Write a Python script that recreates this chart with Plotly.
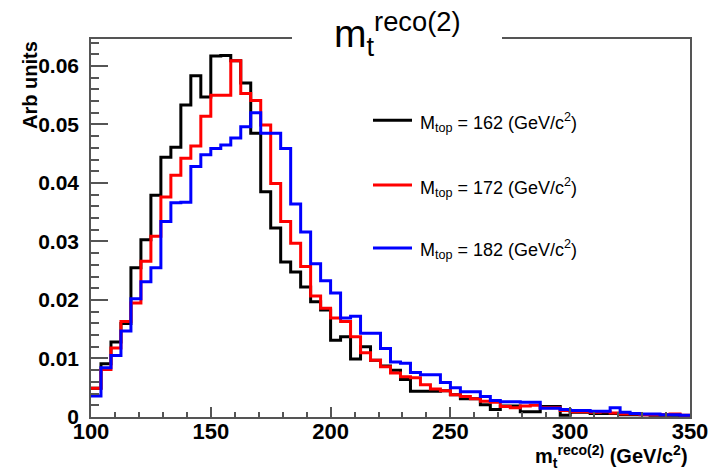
import plotly.graph_objects as go

# ---------------- data ----------------
x_min, x_max, n_bins = 100.0, 350.0, 60
bin_edges = [x_min + i * (x_max - x_min) / n_bins for i in range(n_bins + 1)]

series_names = ["162", "172", "182"]
series_colors = ["#000000", "#ff0000", "#0000ff"]

mtop162 = [0.0049, 0.0091, 0.0128, 0.0160, 0.0255, 0.0303, 0.0379, 0.0444, 0.0461, 0.0533,
           0.0583, 0.0547, 0.0617, 0.0618, 0.0609, 0.0571, 0.0485, 0.0385, 0.0323, 0.0265,
           0.0248, 0.0222, 0.0197, 0.0183, 0.0131, 0.0137, 0.0099, 0.0120, 0.0097, 0.0087,
           0.0080, 0.0064, 0.0044, 0.0044, 0.0044, 0.0045, 0.0038, 0.0031, 0.0031, 0.0021,
           0.0013, 0.0019, 0.0019, 0.0009, 0.0009, 0.0018, 0.0018, 0.0003, 0.0008, 0.0008,
           0.0006, 0.0006, 0.0006, 0.0004, 0.0004, 0.0004, 0.0003, 0.0003, 0.0003, 0.0002]

mtop172 = [0.0049, 0.0081, 0.0118, 0.0163, 0.0195, 0.0266, 0.0309, 0.0376, 0.0413, 0.0442,
           0.0463, 0.0514, 0.0550, 0.0550, 0.0609, 0.0553, 0.0541, 0.0499, 0.0399, 0.0334,
           0.0297, 0.0257, 0.0207, 0.0186, 0.0169, 0.0163, 0.0137, 0.0110, 0.0097, 0.0086,
           0.0075, 0.0069, 0.0067, 0.0055, 0.0048, 0.0045, 0.0038, 0.0035, 0.0031, 0.0027,
           0.0025, 0.0018, 0.0016, 0.0019, 0.0020, 0.0016, 0.0016, 0.0011, 0.0009, 0.0009,
           0.0008, 0.0009, 0.0007, 0.0005, 0.0005, 0.0004, 0.0004, 0.0004, 0.0005, 0.0003]

mtop182 = [0.0036, 0.0084, 0.0105, 0.0147, 0.0202, 0.0231, 0.0255, 0.0334, 0.0366, 0.0367,
           0.0428, 0.0448, 0.0459, 0.0465, 0.0477, 0.0496, 0.0520, 0.0485, 0.0485, 0.0459,
           0.0364, 0.0316, 0.0262, 0.0233, 0.0212, 0.0169, 0.0172, 0.0143, 0.0143, 0.0117,
           0.0094, 0.0092, 0.0076, 0.0072, 0.0072, 0.0059, 0.0050, 0.0043, 0.0043, 0.0035,
           0.0028, 0.0026, 0.0026, 0.0025, 0.0025, 0.0015, 0.0015, 0.0013, 0.0011, 0.0011,
           0.0010, 0.0010, 0.0016, 0.0008, 0.0006, 0.0005, 0.0005, 0.0004, 0.0004, 0.0003]

all_series = [mtop162, mtop172, mtop182]

y_max = 0.0646
x_tick_vals = [100, 150, 200, 250, 300, 350]
y_tick_vals = [0, 0.01, 0.02, 0.03, 0.04, 0.05, 0.06]
y_tick_text = ["0", "0.01", "0.02", "0.03", "0.04", "0.05", "0.06"]

# ---------------- figure ----------------
W, H = 722, 470
ml, mr, mt, mb = 91, 32, 38.5, 52.5
pw, ph = W - ml - mr, H - mt - mb

def px(xp):
    return (xp - ml) / pw

def py(yp):
    return (H - mb - yp) / ph

fig = go.Figure()
for name, col, vals in zip(series_names, series_colors, all_series):
    fig.add_trace(go.Scatter(
        x=bin_edges, y=vals + [vals[-1]], mode="lines",
        line=dict(shape="hv", color=col, width=3),
        name=name, showlegend=False, hoverinfo="skip"))

frame_col = "#555555"
font_fam = "Liberation Sans, Arial, sans-serif"

fig.update_xaxes(
    range=[x_min, x_max], showgrid=False, zeroline=False,
    showline=True, linecolor=frame_col, linewidth=1.5, mirror=True,
    ticks="inside", ticklen=10, tickwidth=1.5, tickcolor=frame_col,
    tickmode="array", tickvals=x_tick_vals, ticktext=[str(v) for v in x_tick_vals],
    tickfont=dict(family=font_fam, size=22, color="black", weight="bold"),
    ticklabelstandoff=-6,
    minor=dict(ticks="inside", ticklen=5, tickwidth=1.5, tickcolor=frame_col,
               dtick=10, tick0=100, showgrid=False))
fig.update_yaxes(
    range=[0, y_max], showgrid=False, zeroline=False,
    showline=True, linecolor=frame_col, linewidth=1.5, mirror=True,
    ticks="inside", ticklen=17, tickwidth=1.5, tickcolor=frame_col,
    tickmode="array", tickvals=y_tick_vals, ticktext=y_tick_text,
    tickfont=dict(family=font_fam, size=21, color="black", weight="bold"),
    ticklabelstandoff=6,
    minor=dict(ticks="inside", ticklen=8, tickwidth=1.5, tickcolor=frame_col,
               dtick=0.002, tick0=0, showgrid=False))

shapes = [dict(type="rect", xref="paper", yref="paper",
               x0=px(292), x1=px(502), y0=py(60), y1=py(0),
               fillcolor="white", line=dict(width=0), layer="above")]

annotations = []
# title
annotations.append(dict(
    text="m<sub>t</sub><sup>reco(2)</sup>", xref="paper", yref="paper",
    x=px(397), y=py(33), xanchor="center", yanchor="middle", showarrow=False,
    font=dict(family=font_fam, size=39, color="black")))

# legend
legend_rows_y = [120, 185, 248]
for name, col, ry in zip(series_names, series_colors, legend_rows_y):
    shapes.append(dict(type="line", xref="paper", yref="paper",
                       x0=px(373), x1=px(412), y0=py(ry), y1=py(ry),
                       line=dict(color=col, width=3)))
    annotations.append(dict(
        text="M<sub>top</sub> = %s (GeV/c<sup>2</sup>)" % name,
        xref="paper", yref="paper", x=px(418), y=py(ry + 2),
        xanchor="left", yanchor="middle", showarrow=False,
        font=dict(family=font_fam, size=18, color="black")))

# axis titles
annotations.append(dict(
    text="<b>m<sub>t</sub><sup>reco(2)</sup> (GeV/c<sup>2</sup>)</b>",
    xref="paper", yref="paper", x=1.0, y=py(457), xanchor="right", yanchor="middle",
    showarrow=False,
    font=dict(family=font_fam, size=20, color="black")))
annotations.append(dict(
    text="<b>Arb units</b>", textangle=-90,
    xref="paper", yref="paper", x=px(30), y=1.0, xanchor="center", yanchor="top",
    showarrow=False,
    font=dict(family=font_fam, size=20, color="black")))

fig.update_layout(
    width=W, height=H, margin=dict(l=ml, r=mr, t=mt, b=mb, pad=0),
    paper_bgcolor="white", plot_bgcolor="white",
    shapes=shapes, annotations=annotations, showlegend=False)

fig.write_html("out.html")
